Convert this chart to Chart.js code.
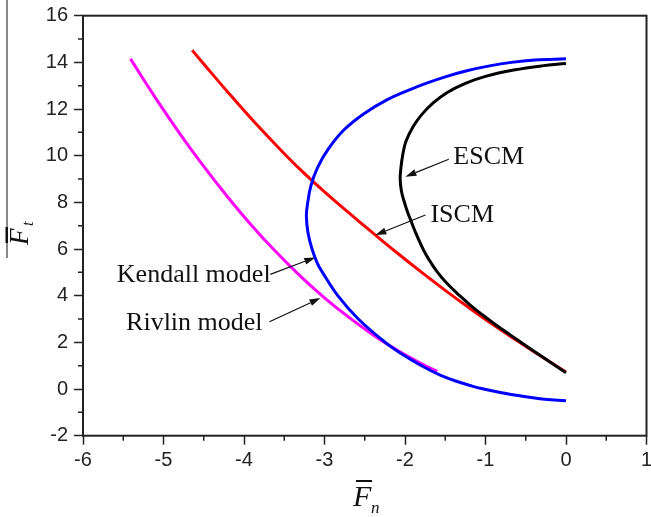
<!DOCTYPE html>
<html>
<head>
<meta charset="utf-8">
<script src="https://cdn.jsdelivr.net/npm/chart.js@4"></script>
<style>
  html, body { margin: 0; padding: 0; background: #fff; }
  #wrap { width: 651px; height: 517px; overflow: hidden; }
</style>
</head>
<body>
<div id="wrap"><canvas id="miGrafico" width="651" height="517"></canvas></div>
<script>
const contenedor = document.getElementById("miGrafico");

// curves as [Fn, Ft] pairs
let rivlin = [[-5.41, 14.15], [-5.1, 12.48], [-4.8, 10.96], [-4.5, 9.54], [-4.2, 8.22],
    [-3.9, 6.99], [-3.6, 5.87], [-3.3, 4.84], [-3.0, 3.91], [-2.7, 3.08], [-2.4, 2.33],
    [-2.1, 1.67], [-1.8, 1.09], [-1.6, 0.76]];

let iscm = [[-4.644, 14.52], [-4.5, 13.93], [-4.2, 12.72], [-3.9, 11.55], [-3.6, 10.45],
    [-3.3, 9.4], [-3.0, 8.45], [-2.7, 7.56], [-2.4, 6.69], [-2.1, 5.84], [-1.8, 5.02],
    [-1.5, 4.23], [-1.2, 3.47], [-0.9, 2.74], [-0.6, 2.055], [-0.3, 1.38], [0, 0.73]];

let escm = [[0, 13.95], [-0.3, 13.85], [-0.65, 13.67], [-1.0, 13.4], [-1.25, 13.1],
    [-1.48, 12.7], [-1.65, 12.26], [-1.795, 11.75], [-1.90, 11.24], [-1.99, 10.6],
    [-2.03, 10.0], [-2.05, 9.5], [-2.06, 9.0], [-2.045, 8.5], [-2.016, 8.1], [-1.97, 7.6],
    [-1.925, 7.2], [-1.868, 6.7], [-1.81, 6.25], [-1.745, 5.8], [-1.675, 5.4], [-1.595, 5.0],
    [-1.48, 4.53], [-1.32, 4.0], [-1.19, 3.6], [-1.045, 3.2], [-0.90, 2.82], [-0.685, 2.3],
    [-0.48, 1.81], [-0.24, 1.25], [0, 0.70]];

let kendall = [[0, 14.15], [-0.39, 14.1], [-0.68, 14.0], [-0.95, 13.85], [-1.22, 13.65],
    [-1.48, 13.4], [-1.74, 13.1], [-1.96, 12.8], [-2.22, 12.4], [-2.51, 11.8], [-2.76, 11.1],
    [-2.95, 10.3], [-3.085, 9.5], [-3.17, 8.7], [-3.212, 7.9], [-3.225, 7.4], [-3.205, 6.7],
    [-3.155, 6.0], [-3.09, 5.4], [-3.025, 5.0], [-2.835, 4.0], [-2.58, 3.0], [-2.245, 2.0],
    [-2.04, 1.5], [-1.795, 1.0], [-1.563, 0.6], [-1.333, 0.3], [-1.19, 0.15], [-1.05, 0.02],
    [-0.80, -0.16], [-0.54, -0.31], [-0.3, -0.425], [-0.14, -0.475], [0, -0.5]];

let ejeX = { min: -6, max: 1, paso: 1 };
let ejeY = { min: -2, max: 16, paso: 2 };

// labels with arrows: text at [x, y], arrow from [x, y] to [x, y]
let etiquetas = [
    { texto: 'ESCM', en: [-1.40, 9.64], desde: [-1.456, 9.845], hasta: [-1.995, 9.10] },
    { texto: 'ISCM', en: [-1.684, 7.17], desde: [-1.746, 7.46], hasta: [-2.368, 6.60] },
    { texto: 'Kendall model', en: [-5.58, 4.60], desde: [-3.674, 4.915], hasta: [-3.114, 5.64] },
    { texto: 'Rivlin model', en: [-5.465, 2.53], desde: [-3.683, 2.884], hasta: [-3.05, 3.90] }
];

const puntos = (arr) => arr.map(p => ({ x: p[0], y: p[1] }));

const serie = (nombre, arr, color) => ({
    label: nombre,
    data: puntos(arr),
    borderColor: color,
    borderWidth: 3,
    pointRadius: 0,
    tension: 0.4,
    fill: false
});

const marco = {
    id: 'marco',
    afterDraw(chart) {
        const ctx = chart.ctx;
        const a = chart.chartArea;
        const sx = chart.scales.x, sy = chart.scales.y;
        ctx.save();

        // box around the plot
        ctx.strokeStyle = '#222';
        ctx.lineWidth = 2;
        ctx.strokeRect(a.left, a.top, a.right - a.left, a.bottom - a.top);

        // minor ticks
        ctx.lineWidth = 1.5;
        ctx.beginPath();
        for (let v = ejeX.min + 0.5; v < ejeX.max; v += 1) {
            const px = sx.getPixelForValue(v);
            ctx.moveTo(px, a.bottom);
            ctx.lineTo(px, a.bottom + 5);
        }
        for (let v = ejeY.min + 1; v < ejeY.max; v += 2) {
            const py = sy.getPixelForValue(v);
            ctx.moveTo(a.left, py);
            ctx.lineTo(a.left - 5, py);
        }
        ctx.stroke();

        // labels and arrows
        ctx.fillStyle = '#111';
        ctx.strokeStyle = '#111';
        ctx.font = '26px "Liberation Serif", "Times New Roman", serif';
        ctx.textBaseline = 'alphabetic';
        etiquetas.forEach(e => {
            ctx.fillText(e.texto, sx.getPixelForValue(e.en[0]), sy.getPixelForValue(e.en[1]));
            const x1 = sx.getPixelForValue(e.desde[0]), y1 = sy.getPixelForValue(e.desde[1]);
            const x2 = sx.getPixelForValue(e.hasta[0]), y2 = sy.getPixelForValue(e.hasta[1]);
            const ang = Math.atan2(y2 - y1, x2 - x1);
            const largo = 11, ancho = 3.5;
            const bx = x2 - largo * Math.cos(ang), by = y2 - largo * Math.sin(ang);
            ctx.lineWidth = 1.2;
            ctx.beginPath();
            ctx.moveTo(x1, y1);
            ctx.lineTo(bx, by);
            ctx.stroke();
            ctx.beginPath();
            ctx.moveTo(x2, y2);
            ctx.lineTo(bx + ancho * Math.sin(ang), by - ancho * Math.cos(ang));
            ctx.lineTo(bx - ancho * Math.sin(ang), by + ancho * Math.cos(ang));
            ctx.closePath();
            ctx.fill();
        });

        // x axis title: F bar, subscript n
        ctx.fillStyle = '#111';
        ctx.font = 'italic 30px "Liberation Serif", "Times New Roman", serif';
        ctx.fillText('F', 353, 506);
        ctx.fillRect(356, 480, 16, 2);
        ctx.font = 'italic 17px "Liberation Serif", "Times New Roman", serif';
        ctx.fillText('n', 371, 513);

        // y axis title, rotated
        ctx.save();
        ctx.translate(28, 245);
        ctx.rotate(-Math.PI / 2);
        ctx.font = 'italic 27px "Liberation Serif", "Times New Roman", serif';
        ctx.fillText('F', 0, 0);
        ctx.font = 'italic 16px "Liberation Serif", "Times New Roman", serif';
        ctx.fillText('t', 19, 5);
        ctx.restore();
        ctx.fillRect(5.5, 227, 2.5, 16);
        ctx.fillRect(6.5, 0, 1, 258);

        ctx.restore();
    }
};

// first dataset ends up on top
const miGrafico = new Chart(contenedor, {
    type: 'line',
    data: {
        datasets: [
            serie('ESCM', escm, '#000000'),
            serie('Kendall model', kendall, '#0000ff'),
            serie('ISCM', iscm, '#ff0000'),
            serie('Rivlin model', rivlin, '#ff00ff')
        ]
    },
    options: {
        responsive: false,
        animation: false,
        devicePixelRatio: 1,
        layout: { padding: { left: 0, right: 4.5, top: 15.7, bottom: 0 } },
        plugins: { legend: { display: false }, tooltip: { enabled: false } },
        scales: {
            x: {
                type: 'linear',
                min: ejeX.min,
                max: ejeX.max,
                border: { display: false },
                grid: { drawOnChartArea: false, drawTicks: true, tickLength: 9, tickColor: '#222', tickWidth: 1.5 },
                ticks: {
                    stepSize: ejeX.paso,
                    padding: 4,
                    color: '#222',
                    maxRotation: 0,
                    font: { family: '"Liberation Sans", Arial, sans-serif', size: 20 }
                },
                afterFit(s) { s.height = 81.3; s.paddingLeft = 0; s.paddingRight = 0; }
            },
            y: {
                type: 'linear',
                min: ejeY.min,
                max: ejeY.max,
                border: { display: false },
                grid: { drawOnChartArea: false, drawTicks: true, tickLength: 9, tickColor: '#222', tickWidth: 1.5 },
                ticks: {
                    stepSize: ejeY.paso,
                    padding: 6,
                    color: '#222',
                    font: { family: '"Liberation Sans", Arial, sans-serif', size: 20 }
                },
                afterFit(s) { s.width = 83; s.paddingTop = 0; s.paddingBottom = 0; }
            }
        }
    },
    plugins: [marco]
});
</script>
</body>
</html>
